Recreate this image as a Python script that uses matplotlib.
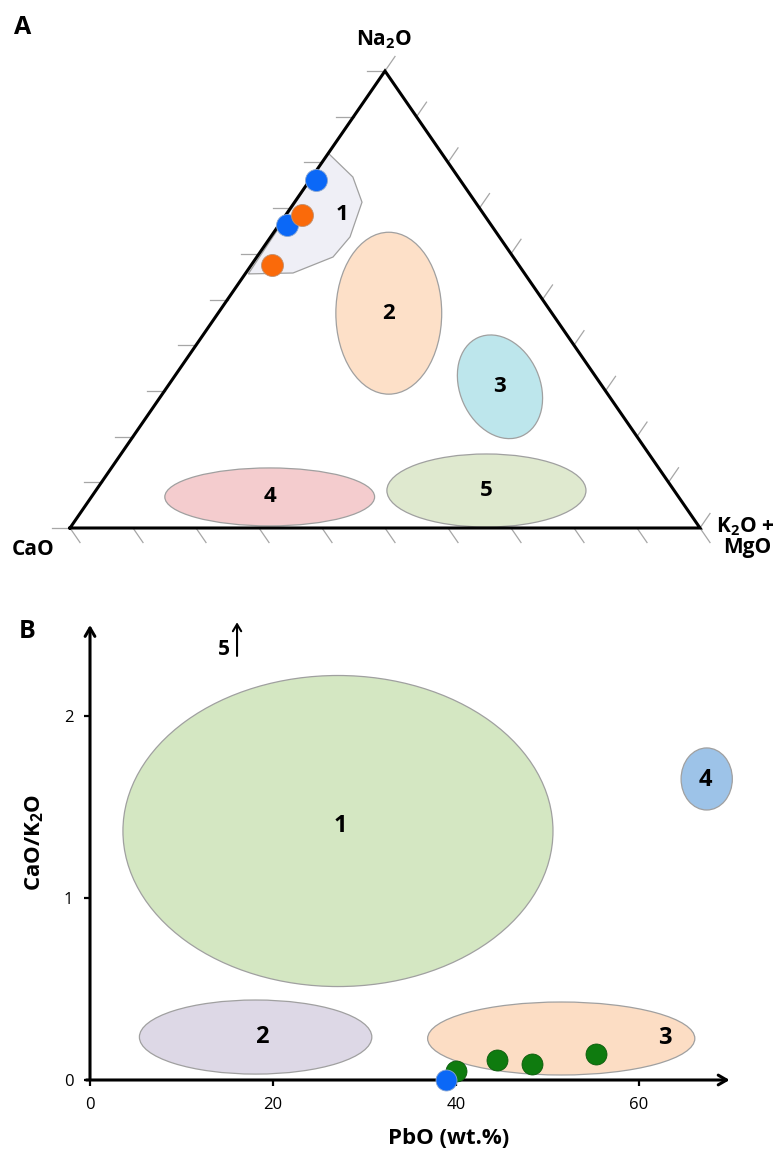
import numpy as np
import matplotlib
matplotlib.use("Agg")
import matplotlib.pyplot as plt
from matplotlib.patches import Ellipse, Polygon

plt.rcParams["font.family"] = ["Open Sans", "DejaVu Sans"]
plt.rcParams["mathtext.fontset"] = "custom"
plt.rcParams["mathtext.rm"] = "Open Sans"
plt.rcParams["mathtext.bf"] = "Open Sans:bold"

# Panel A - ternary compositions given as (CaO, K2O+MgO, Na2O) in %
blue_a = [(22.9, 1.0, 76.1), (32.4, 1.3, 66.3)]
orange_a = [(28.9, 2.6, 68.5), (39.2, 3.3, 57.5)]

field1_outline = [(18.0, 0.0, 82.0), (16.7, 6.5, 76.8), (18.0, 10.7, 71.3),
                  (23.7, 12.6, 63.7), (28.6, 12.1, 59.3), (36.7, 7.5, 55.8),
                  (43.9, 0.5, 55.6)]
field1_label = (22.5, 9.0, 68.5)

fields_a = ["2", "3", "4", "5"]
fields_a_centre = [(25.9, 27.1, 47.0), (16.3, 52.8, 30.9),
                   (64.9, 28.3, 6.8), (29.8, 62.0, 8.2)]
fields_a_width = [0.168, 0.127, 0.333, 0.316]
fields_a_height = [0.257, 0.171, 0.092, 0.116]
fields_a_angle = [0, 24, 0, 0]
fields_a_colour = ["#fde0c8", "#bde6ec", "#f4ccce", "#dfe9cf"]

# Panel B - PbO (wt.%) against CaO/K2O
fields_b = ["1", "2", "3", "4"]
fields_b_pbo = [27.1, 18.1, 51.5, 67.4]
fields_b_ratio = [1.368, 0.236, 0.228, 1.654]
fields_b_width = [47.0, 25.4, 29.2, 5.6]
fields_b_height = [1.709, 0.407, 0.401, 0.341]
fields_b_label_pbo = [27.4, 18.8, 62.8, 67.3]
fields_b_label_ratio = [1.396, 0.236, 0.231, 1.648]
fields_b_colour = ["#d4e7c2", "#ddd8e6", "#fcddc4", "#9dc3e8"]

green_pbo = [40.0, 44.5, 48.3, 55.3]
green_ratio = [0.049, 0.110, 0.088, 0.143]
blue_pbo = [38.9]
blue_ratio = [0.0]

BLUE = "#0b68f7"
ORANGE = "#fa6a0a"
GREEN = "#0f7b0f"
EDGE = "#a0a0a0"

H = 457 / 630  # height of the (flattened) triangle relative to its base


def tern(ca, k, na):
    """Convert a (CaO, K2O+MgO, Na2O) composition to plot coordinates."""
    s = ca + k + na
    b, c = k / s, na / s
    return b + c / 2, c * H


fig = plt.figure(figsize=(7.75, 11.5), dpi=100)

# ---------------- Panel A ----------------
ax = fig.add_axes([0, 590 / 1150, 1, 560 / 1150])
ax.set_xlim(-70 / 630, 705 / 630)
ax.set_ylim(-32 / 630, 528 / 630)
ax.axis("off")

tri = np.array([[0, 0], [1, 0], [0.5, H], [0, 0]])
ax.plot(tri[:, 0], tri[:, 1], color="black", lw=2.2, zorder=3,
        solid_joinstyle="miter")

# tick marks along each side, every 10 %
L = 0.028
down_dir = np.array([0.5, -H]) / np.hypot(0.5, H)
up_dir = np.array([0.5, H]) / np.hypot(0.5, H)
for f in np.linspace(0, 1, 11):
    px, py = 0.5 * f, H * f
    ax.plot([px - L, px], [py, py], color="#a6a6a6", lw=0.9, zorder=2)
    ax.plot([f, f + L * down_dir[0]], [0, L * down_dir[1]],
            color="#a6a6a6", lw=0.9, zorder=2)
    px, py = 1 - 0.5 * f, H * f
    ax.plot([px, px + L * up_dir[0]], [py, py + L * up_dir[1]],
            color="#a6a6a6", lw=0.9, zorder=2)

outline = [tern(*p) for p in field1_outline]
ax.add_patch(Polygon(outline, closed=True, facecolor="#efeff6",
                     edgecolor=EDGE, lw=0.9, zorder=1))
lx, ly = tern(*field1_label)
ax.text(lx, ly, "1", ha="center", va="center", fontsize=16,
        fontweight="bold", zorder=5)

for name, c, w, h, a, col in zip(fields_a, fields_a_centre, fields_a_width,
                                 fields_a_height, fields_a_angle,
                                 fields_a_colour):
    cx, cy = tern(*c)
    ax.add_patch(Ellipse((cx, cy), w, h, angle=a, facecolor=col,
                         edgecolor=EDGE, lw=0.9, zorder=1))
    ax.text(cx, cy, name, ha="center", va="center", fontsize=16,
            fontweight="bold", zorder=5)

bx, by = zip(*[tern(*p) for p in blue_a])
ox, oy = zip(*[tern(*p) for p in orange_a])
ax.scatter(bx, by, s=250, color=BLUE, edgecolor="#8aa6d0", lw=0.6, zorder=4)
ax.scatter(ox, oy, s=250, color=ORANGE, edgecolor="#c09070", lw=0.6, zorder=4)

ax.annotate(r"Na$_\mathbf{2}$O", (0.5, H), xytext=(-1, 26),
            textcoords="offset pixels", ha="center", va="baseline",
            fontsize=15, fontweight="bold")
ax.annotate("CaO", (0, 0), xytext=(-37, -27), textcoords="offset pixels",
            ha="center", va="baseline", fontsize=15, fontweight="bold")
ax.annotate(r"K$_\mathbf{2}$O +", (1, 0), xytext=(45, -4),
            textcoords="offset pixels", ha="center", va="baseline",
            fontsize=15, fontweight="bold")
ax.annotate("MgO", (1, 0), xytext=(47, -25), textcoords="offset pixels",
            ha="center", va="baseline", fontsize=15, fontweight="bold")

fig.text(23 / 775, 1 - 27 / 1150, "A", ha="center", va="center",
         fontsize=18, fontweight="bold")

# ---------------- Panel B ----------------
axb = fig.add_axes([90 / 775, 70 / 1150, 650 / 775, 460 / 1150])
axb.set_xlim(0, 650 / 9.15)
axb.set_ylim(0, 460 / 182)
for sp in axb.spines.values():
    sp.set_visible(False)

arrow = dict(arrowstyle="->,head_length=0.6,head_width=0.35", lw=2.2,
             color="black", shrinkA=0, shrinkB=0)
axb.annotate("", xy=(69.9, 0), xytext=(-0.4, 0), arrowprops=arrow,
             annotation_clip=False, zorder=3)
axb.annotate("", xy=(0, 2.5), xytext=(0, 0), arrowprops=arrow,
             annotation_clip=False, zorder=3)

axb.set_xticks([0, 20, 40, 60])
axb.set_yticks([0, 1, 2])
axb.tick_params(axis="both", direction="out", length=4, width=1.6,
                labelsize=12, pad=8)

for name, x, y, w, h, lxb, lyb, col in zip(fields_b, fields_b_pbo,
                                           fields_b_ratio, fields_b_width,
                                           fields_b_height, fields_b_label_pbo,
                                           fields_b_label_ratio,
                                           fields_b_colour):
    axb.add_patch(Ellipse((x, y), w, h, facecolor=col, edgecolor=EDGE,
                          lw=0.9, zorder=1))
    axb.text(lxb, lyb, name, ha="center", va="center", fontsize=17,
             fontweight="bold", zorder=5)

axb.scatter(green_pbo, green_ratio, s=228, color=GREEN, edgecolor="#0b5a0b",
            lw=0.6, zorder=4, clip_on=False)
axb.scatter(blue_pbo, blue_ratio, s=228, color=BLUE, edgecolor="#8aa6d0",
            lw=0.6, zorder=4, clip_on=False)

# field 5 lies off the top of the scale
axb.text(14.6, 2.368, "5", ha="center", va="center", fontsize=15,
         fontweight="bold")
axb.annotate("", xy=(16.07, 2.515), xytext=(16.07, 2.33),
             arrowprops=dict(arrowstyle="->,head_length=0.5,head_width=0.3",
                             lw=1.5, color="black", shrinkA=0, shrinkB=0),
             annotation_clip=False)

fig.text(35 / 775, 1 - 842 / 1150, r"CaO/K$_\mathbf{2}$O", rotation=90,
         ha="center", va="center", fontsize=16, fontweight="bold")
fig.text(449 / 775, 1 - 1138 / 1150, "PbO (wt.%)", ha="center",
         va="center", fontsize=16, fontweight="bold")
fig.text(27 / 775, 1 - 632 / 1150, "B", ha="center", va="center",
         fontsize=18, fontweight="bold")

fig.savefig("out.png", dpi=100)
